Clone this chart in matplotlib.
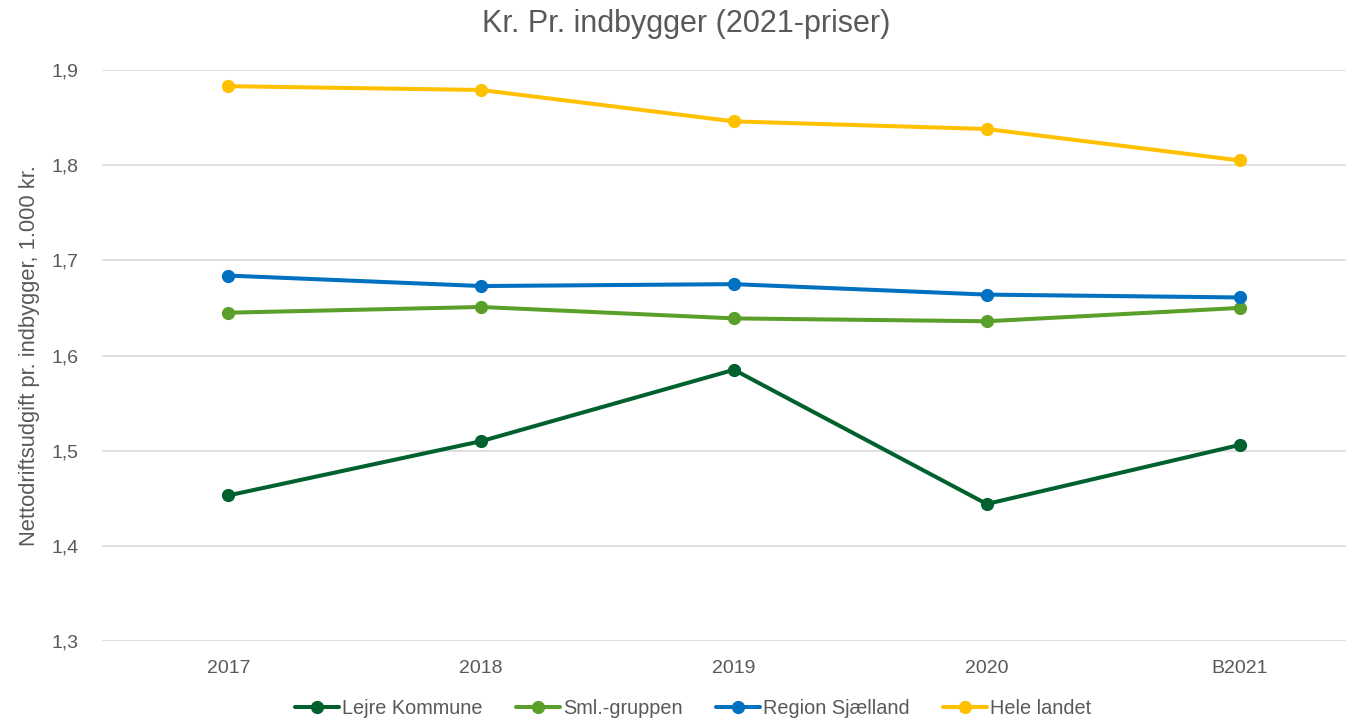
import matplotlib
matplotlib.use("Agg")
import matplotlib.pyplot as plt
from matplotlib.ticker import FuncFormatter

years = ["2017", "2018", "2019", "2020", "B2021"]
lejre = [1.453, 1.510, 1.585, 1.444, 1.506]
sml = [1.645, 1.651, 1.639, 1.636, 1.650]
region = [1.684, 1.673, 1.675, 1.664, 1.661]
hele = [1.883, 1.879, 1.846, 1.838, 1.805]

series = [
    ("Lejre Kommune", lejre, "#00612E"),
    ("Sml.-gruppen", sml, "#5B9F2B"),
    ("Region Sjælland", region, "#0070C0"),
    ("Hele landet", hele, "#FFC000"),
]

plt.rcParams["font.family"] = ["Liberation Sans", "DejaVu Sans"]
grey = "#595959"

fig = plt.figure(figsize=(13.46, 7.18), dpi=100)
ax = fig.add_axes([0.0758, 0.1072, 0.924, 0.7953])

x = range(len(years))
for name, vals, col in series:
    ax.plot(x, vals, color=col, lw=2.9, marker="o", markersize=8.5,
            label=name, solid_capstyle="round")

ax.set_ylim(1.3, 1.9)
ax.set_yticks([1.3, 1.4, 1.5, 1.6, 1.7, 1.8, 1.9])
ax.yaxis.set_major_formatter(FuncFormatter(lambda v, p: f"{v:.1f}".replace(".", ",")))
ax.set_xlim(-0.5, 4.42)
ax.set_xticks(list(x))
ax.set_xticklabels(years)

ax.grid(axis="y", color="#d9d9d9", lw=1.2)
ax.set_axisbelow(True)
for s in ax.spines.values():
    s.set_visible(False)
ax.tick_params(length=0, colors=grey, labelsize=14)
ax.tick_params(axis="y", pad=17)
ax.tick_params(axis="x", pad=14)

ax.set_ylabel("Nettodriftsudgift pr. indbygger, 1.000 kr.", color=grey, fontsize=15.8, labelpad=8)
fig.suptitle("Kr. Pr. indbygger (2021-priser)", color=grey, fontsize=22, x=0.51, y=0.988)

fig.legend(loc="lower center", bbox_to_anchor=(0.515, -0.022), ncol=4, frameon=False,
           fontsize=14.3, labelcolor=grey, handlelength=2.2, columnspacing=1.7,
           handletextpad=0.15, borderpad=0.3)

fig.savefig("out.png", dpi=100)
